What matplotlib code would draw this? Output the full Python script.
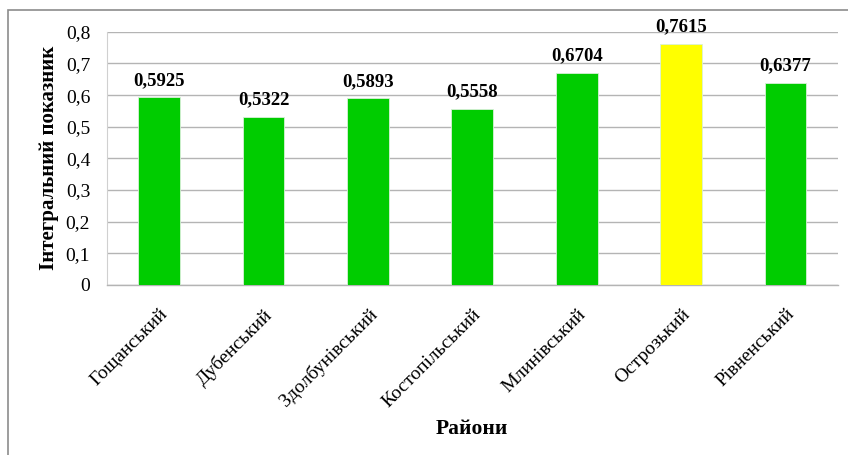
import matplotlib.pyplot as plt
from matplotlib.patches import Rectangle

districts = ["Гощанський", "Дубенський", "Здолбунівський", "Костопільський",
             "Млинівський", "Острозький", "Рівненський"]
values = [0.5925, 0.5322, 0.5893, 0.5558, 0.6704, 0.7615, 0.6377]
value_labels = ["0,5925", "0,5322", "0,5893", "0,5558", "0,6704", "0,7615", "0,6377"]
yticks = [0, 0.1, 0.2, 0.3, 0.4, 0.5, 0.6, 0.7, 0.8]
ytick_labels = ["0", "0,1", "0,2", "0,3", "0,4", "0,5", "0,6", "0,7", "0,8"]
highlight = "Острозький"

plt.rcParams["font.family"] = ["Liberation Serif", "DejaVu Serif"]

fig = plt.figure(figsize=(8.48, 4.55), dpi=100)
ax = fig.add_axes([0.126, 0.374, 0.862, 0.556])

# outer chart frame (cut off at right/bottom)
fig.patches.append(Rectangle((8 / 848, -0.1), 1.2, 1 - 10 / 455 + 0.1,
                             transform=fig.transFigure, fill=False,
                             edgecolor="#8c8c8c", linewidth=1.2))

colors = ["#ffff00" if d == highlight else "#00cc00" for d in districts]
x = range(len(districts))
bars = ax.bar(x, values, width=0.4, color=colors, edgecolor="#d8f0d8", linewidth=0.6, zorder=3)

for b, lab in zip(bars, value_labels):
    ax.text(b.get_x() + b.get_width() / 2, b.get_height() + 0.027, lab,
            ha="center", va="bottom", fontsize=13.5, fontweight="bold")

ax.set_xlim(-0.5, len(districts) - 0.5)
ax.set_ylim(0, 0.8)
ax.set_yticks(yticks)
ax.set_yticklabels(ytick_labels, fontsize=14)
ax.set_xticks(list(x))
ax.set_xticklabels(districts, rotation=45, ha="right", rotation_mode="anchor",
                   fontsize=14)
ax.tick_params(axis="both", length=0)
ax.tick_params(axis="x", pad=15)
ax.tick_params(axis="y", pad=12)
ax.yaxis.grid(True, color="#b4b4b4", linewidth=1.0, zorder=0)
ax.set_axisbelow(True)

for s in ["top", "right"]:
    ax.spines[s].set_visible(False)
ax.spines["left"].set_color("#d0d0d0")
ax.spines["bottom"].set_color("#b4b4b4")
ax.spines["bottom"].set_linewidth(1.0)

ax.set_ylabel("Інтегральний показник", fontsize=15, fontweight="bold")
ax.yaxis.set_label_coords(-0.066, 0.5)
ax.set_xlabel("Райони", fontsize=15.5, fontweight="bold")
ax.xaxis.set_label_coords(0.5, -0.53)

fig.savefig("out.png", dpi=100)
